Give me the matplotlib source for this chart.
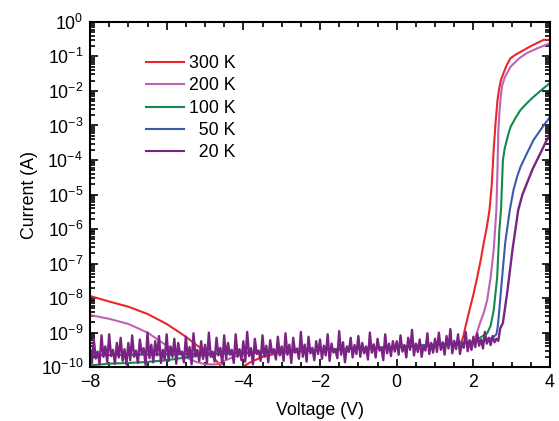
import numpy as np
import matplotlib
matplotlib.use("Agg")
import matplotlib.pyplot as plt
from matplotlib.ticker import LogLocator, MultipleLocator, NullFormatter

# temperature sweep of I-V curves, values as log10(I)
labels = ["300 K", "200 K", "100 K", "  50 K", "  20 K"]
colors = ["#e8262c", "#c062b4", "#13894a", "#3a5bab", "#7a2382"]

v_300 = [-8, -7.5, -7, -6.5, -6, -5.7, -5.5, -5.2, -5, -4.8, -4.6, -4.5, -4.2, -4.0, -3.8,
         -3.5, -3.1, -2, -1, 0, 1, 1.5, 1.7, 1.75, 1.8, 1.92, 2.0, 2.1, 2.2, 2.27, 2.35, 2.42,
         2.48, 2.53, 2.58, 2.63, 2.67, 2.72, 2.78, 2.87, 2.97, 3.1, 3.23, 3.5, 3.83, 4.0]
log_300 = [-7.94, -8.1, -8.25, -8.46, -8.75, -8.97, -9.12, -9.38, -9.52, -9.7, -9.95, -10.3,
           -10.3, -9.98, -9.85, -9.7, -9.6, -9.5, -9.46, -9.42, -9.36, -9.32, -9.25, -9.05,
           -8.8, -8.25, -7.9, -7.4, -6.85, -6.4, -5.95, -5.45, -4.7, -3.7, -2.9, -2.26, -1.95,
           -1.68, -1.5, -1.25, -1.05, -0.95, -0.87, -0.7, -0.52, -0.52]

v_200 = [-8, -7.5, -7, -6.5, -6, -5.75, -5.5, -5.25, -5, -4.7, -4.5, -4.2, -4, 0, 1.5, 2.0,
         2.05, 2.18, 2.27, 2.36, 2.45, 2.53, 2.6, 2.63, 2.65, 2.68, 2.72, 2.75, 2.82, 2.97,
         3.2, 3.4, 3.7, 4.0]
log_200 = [-8.49, -8.6, -8.75, -9.0, -9.38, -9.56, -9.72, -9.84, -9.92, -9.92, -9.82, -9.68,
           -9.6, -9.42, -9.33, -9.25, -9.15, -8.7, -8.43, -8.06, -7.4, -6.6, -5.45, -4.2,
           -3.2, -2.6, -2.1, -1.85, -1.6, -1.3, -1.05, -0.9, -0.75, -0.62]

v_100 = [-8, -7.5, -7, -6.5, -6, -5.5, -5, -4.5, -4, 0, 2.0, 2.36, 2.45, 2.53, 2.62, 2.68,
         2.72, 2.75, 2.77, 2.82, 2.9, 2.97, 3.1, 3.23, 3.4, 3.57, 3.8, 4.0]
log_100 = [-9.95, -9.9, -9.88, -9.85, -9.8, -9.72, -9.65, -9.6, -9.58, -9.42, -9.27, -9.02,
           -8.8, -8.35, -7.4, -6.0, -5.45, -4.6, -4.0, -3.65, -3.3, -3.04, -2.78, -2.55,
           -2.35, -2.17, -1.95, -1.77]

v_50 = [-8, -4, 0, 1.5, 2.0, 2.3, 2.5, 2.6, 2.63, 2.66, 2.75, 2.83, 2.95, 3.05, 3.15, 3.23,
        3.4, 3.57, 3.8, 4.0]
log_50 = [-9.66, -9.6, -9.42, -9.33, -9.27, -9.22, -9.15, -9.05, -8.87, -8.55, -7.4, -6.4,
          -5.45, -4.85, -4.45, -4.2, -3.8, -3.42, -3.05, -2.75]

# 20 K: noisy floor sampled every 0.05 V from -8 to 2.65 V, then the turn-on
log_20_floor = [
    -9.45, -9.88, -9.20, -9.75, -9.55, -9.92, -9.08, -9.70, -9.40, -9.85,
    -9.05, -9.68, -9.50, -9.90, -9.30, -9.72, -9.15, -9.82, -9.48, -9.92,
    -9.30, -9.80, -9.08, -9.70, -9.52, -9.88, -9.20, -9.62, -9.45, -9.94,
    -9.00, -9.74, -9.35, -9.86, -9.25, -9.66, -9.10, -9.88, -9.50, -9.78,
    -9.05, -9.82, -9.40, -9.70, -9.18, -9.90, -9.30, -9.62, -9.55, -9.86,
    -9.12, -9.72, -9.42, -9.92, -9.02, -9.68, -9.50, -9.82, -9.25, -9.76,
    -9.35, -9.88, -9.00, -9.70, -9.55, -9.84, -9.15, -9.66, -9.44, -9.90,
    -9.08, -9.76, -9.30, -9.64, -9.50, -9.88, -9.05, -9.70, -9.48, -9.80,
    -9.25, -9.84, -8.98, -9.68, -9.45, -9.92, -9.18, -9.62, -9.52, -9.82,
    -9.08, -9.70, -9.38, -9.86, -9.22, -9.60, -9.48, -9.78, -9.12, -9.66,
    -9.40, -9.82, -9.02, -9.64, -9.35, -9.88, -9.15, -9.58, -9.46, -9.76,
    -8.98, -9.70, -9.35, -9.84, -9.12, -9.60, -9.44, -9.80, -9.25, -9.62,
    -9.20, -9.76, -9.38, -9.66, -9.05, -9.82, -9.32, -9.58, -9.48, -9.74,
    -8.96, -9.64, -9.28, -9.86, -9.40, -9.56, -9.15, -9.72, -9.36, -9.62,
    -9.10, -9.70, -9.30, -9.60, -9.40, -9.78, -9.00, -9.58, -9.34, -9.72,
    -9.18, -9.52, -9.44, -9.80, -9.05, -9.60, -9.32, -9.68, -9.25, -9.55,
    -9.25, -9.64, -9.08, -9.55, -9.36, -9.72, -9.15, -9.50, -8.92, -9.66,
    -9.32, -9.56, -9.20, -9.70, -9.38, -9.52, -9.02, -9.62, -9.30, -9.58,
    -9.18, -9.56, -9.00, -9.50, -9.28, -9.64, -9.10, -9.46, -8.90, -9.60,
    -9.24, -9.48, -9.05, -9.62, -9.32, -9.44, -8.98, -9.54, -9.22, -9.50,
    -9.12, -9.42, -9.02, -9.38, -9.20, -9.46, -8.98, -9.32, -9.15, -9.36,
    -9.10, -9.28, -9.18, -9.24,
]
v_20_floor = np.round(np.arange(len(log_20_floor)) * 0.05 - 8.0, 2)
v_20_rise = [2.70, 2.77, 2.88, 3.02, 3.17, 3.28, 3.4, 3.55, 3.75, 3.88, 4.0]
log_20_rise = [-8.88, -8.72, -7.86, -6.6, -5.45, -5.0, -4.67, -4.25, -3.8, -3.5, -3.22]
v_20 = np.concatenate([v_20_floor, v_20_rise])
log_20 = np.concatenate([log_20_floor, log_20_rise])

curves = [(v_300, log_300), (v_200, log_200), (v_100, log_100), (v_50, log_50), (v_20, log_20)]
widths = [1.5, 1.5, 1.5, 1.5, 1.7]

plt.rcParams['font.family'] = ['Liberation Sans', 'DejaVu Sans']
plt.rcParams['mathtext.fontset'] = 'custom'
plt.rcParams['mathtext.rm'] = 'Liberation Sans'
plt.rcParams['mathtext.it'] = 'Liberation Sans:italic'

fs = 12.8
fig = plt.figure(figsize=(5.59, 4.21), dpi=100)
ax = fig.add_axes([0.161, 0.128, 0.823, 0.820])

for (v, lg), c, lab, w in zip(curves, colors, labels, widths):
    ax.plot(v, 10.0 ** np.asarray(lg), color=c, lw=w, label=lab)

ax.set_yscale('log')
ax.set_xlim(-8, 4)
ax.set_ylim(1e-10, 1)
ax.xaxis.set_major_locator(MultipleLocator(2))
ax.xaxis.set_minor_locator(MultipleLocator(0.5))
ax.yaxis.set_major_locator(LogLocator(base=10, numticks=20))
ax.yaxis.set_minor_locator(LogLocator(base=10, subs=np.arange(2, 10), numticks=200))
ax.yaxis.set_minor_formatter(NullFormatter())

ax.tick_params(which='both', direction='in', top=True, right=True, width=1.2,
               labelsize=fs, pad=5)
ax.tick_params(which='major', length=6)
ax.tick_params(which='minor', length=3.5)
for s in ax.spines.values():
    s.set_linewidth(1.5)

ax.set_xlabel('Voltage (V)', fontsize=fs, labelpad=8)
ax.set_ylabel('Current (A)', fontsize=fs, labelpad=2)

leg = ax.legend(loc='upper left', bbox_to_anchor=(0.088, 0.95), frameon=False,
                fontsize=fs, handlelength=2.1, handletextpad=0.3, labelspacing=0.3)
for h in leg.get_lines():
    h.set_linewidth(1.5)

fig.savefig('out.png', dpi=100)
